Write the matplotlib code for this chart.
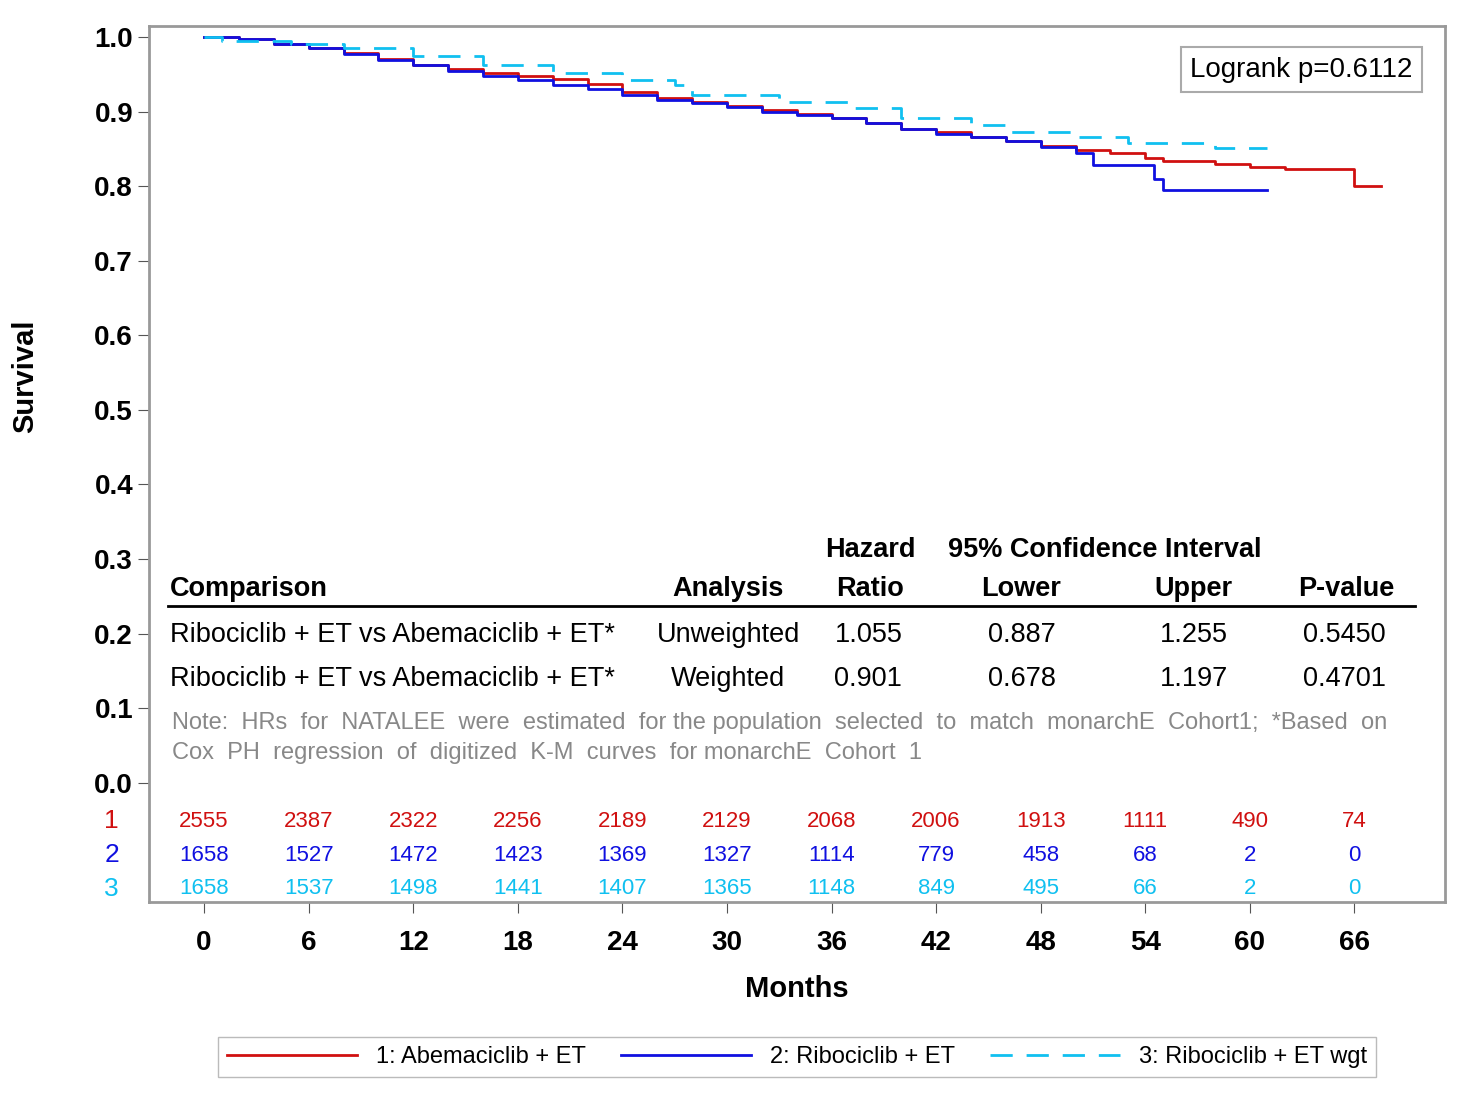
import matplotlib
matplotlib.use("Agg")
import matplotlib.pyplot as plt

red_t = [0,2,4,6,8,10,12,14,16,18,20,22,24,26,28,30,32,34,36,38,40,42,44,46,48,50,52,54,55,58,60,62,66,67.5]
red_s = [1.0,0.997,0.99,0.985,0.978,0.97,0.963,0.957,0.952,0.947,0.943,0.937,0.926,0.918,0.913,0.908,0.902,0.897,0.892,0.885,0.877,0.872,0.866,0.860,0.854,0.849,0.844,0.838,0.833,0.830,0.826,0.823,0.80,0.80]
blue_t = [0,2,4,6,8,10,12,14,16,18,20,22,24,26,28,30,32,34,36,38,40,42,44,46,48,50,51,54,54.5,55,61]
blue_s = [1.0,0.997,0.99,0.985,0.977,0.969,0.962,0.955,0.948,0.942,0.936,0.930,0.922,0.916,0.912,0.906,0.900,0.896,0.891,0.884,0.876,0.870,0.866,0.860,0.852,0.845,0.828,0.828,0.81,0.795,0.795]
cyan_t = [0,1,5,8,12,16,20,24,27,28,33,37,40,44,46,50,53,58,61]
cyan_s = [1.0,0.995,0.99,0.985,0.975,0.962,0.952,0.942,0.936,0.922,0.913,0.905,0.892,0.882,0.873,0.866,0.858,0.851,0.851]

ticks = [0,6,12,18,24,30,36,42,48,54,60,66]
risk1 = [2555,2387,2322,2256,2189,2129,2068,2006,1913,1111,490,74]
risk2 = [1658,1527,1472,1423,1369,1327,1114,779,458,68,2,0]
risk3 = [1658,1537,1498,1441,1407,1365,1148,849,495,66,2,0]

RED, BLUE, CYAN = "#d01010", "#1010e0", "#10c0f0"
plt.rcParams['font.family'] = ['Liberation Sans', 'DejaVu Sans']
fig = plt.figure(figsize=(14.7, 11.01), dpi=100)
ax = fig.add_axes([149/1470, 1-902/1101, (1445-149)/1470, (902-26)/1101])
ax.step(red_t, red_s, where='post', color=RED, lw=2, label="1: Abemaciclib + ET")
ax.step(blue_t, blue_s, where='post', color=BLUE, lw=2, label="2: Ribociclib + ET")
ax.step(cyan_t, cyan_s, where='post', color=CYAN, lw=2, ls=(0,(8,5)), label="3: Ribociclib + ET wgt")
ax.set_xlim(-3.16, 71.2)
ax.set_ylim(-0.16, 1.0147)
ax.set_xticks(ticks)
ax.set_xticklabels([str(t) for t in ticks], fontweight='bold')
ax.set_yticks([i/10 for i in range(11)])
ax.set_yticklabels([f"{i/10:.1f}" for i in range(11)], fontweight='bold')
ax.tick_params(labelsize=20, length=8, color="#555")
ax.tick_params(axis='x', pad=12)
for s in ax.spines.values():
    s.set_color("#999"); s.set_linewidth(2)
ax.set_xlabel("Months", fontsize=21, labelpad=14, fontweight='bold')
ax.set_ylabel("Survival", fontsize=21, labelpad=20, fontweight='bold')
ax.yaxis.set_label_coords(-0.085, 0.6)

for row, (vals, c) in enumerate([(risk1, RED), (risk2, BLUE), (risk3, CYAN)]):
    y = -0.052 - row*0.045
    ax.text(-5.3, y, str(row+1), color=c, fontsize=19, ha='center', va='center')
    for t, v in zip(ticks, vals):
        ax.text(t, y, str(v), color=c, fontsize=16, ha='center', va='center')

ax.text(0.975, 0.965, "Logrank p=0.6112", transform=ax.transAxes, fontsize=20, ha='right', va='top',
        bbox=dict(boxstyle='square,pad=0.35', fc='white', ec='#aaa', lw=1.5))

def X(px): return (px-204)/17.42
def Y(py): return (783-py)/746
fs = 19.5
ax.text(X(870), Y(550), "Hazard", fontsize=fs, weight='bold', ha='center', va='center')
ax.text(X(1104), Y(550), "95% Confidence Interval", fontsize=fs, weight='bold', ha='center', va='center')
hy = Y(589)
ax.text(X(170), hy, "Comparison", fontsize=fs, weight='bold', ha='left', va='center')
for px, t in [(728,"Analysis"),(870,"Ratio"),(1021,"Lower"),(1193,"Upper"),(1346,"P-value")]:
    ax.text(X(px), hy, t, fontsize=fs, weight='bold', ha='center', va='center')
ax.plot([X(168), X(1414)], [Y(606), Y(606)], color='black', lw=2)
rows = [("Unweighted","1.055","0.887","1.255","0.5450"),("Weighted","0.901","0.678","1.197","0.4701")]
for i, r in enumerate(rows):
    y = Y(635 + i*44)
    ax.text(X(170), y, "Ribociclib + ET vs Abemaciclib + ET*", fontsize=fs, ha='left', va='center')
    for px, t in zip([728,868,1021,1193,1344], r):
        ax.text(X(px), y, t, fontsize=fs, ha='center', va='center')
ax.text(X(172), Y(723), "Note:  HRs  for  NATALEE  were  estimated  for the population  selected  to  match  monarchE  Cohort1;  *Based  on",
        fontsize=17, color='#888', ha='left', va='center')
ax.text(X(172), Y(753), "Cox  PH  regression  of  digitized  K-M  curves  for monarchE  Cohort  1",
        fontsize=17, color='#888', ha='left', va='center')

h, l = ax.get_legend_handles_labels()
fig.legend(h, l, loc='center', bbox_to_anchor=(797/1470, 1-1057/1101), ncol=3, fontsize=17,
           frameon=True, fancybox=False, edgecolor='#aaa', handlelength=5.5, columnspacing=1.5)
fig.savefig("out.png", dpi=100)
